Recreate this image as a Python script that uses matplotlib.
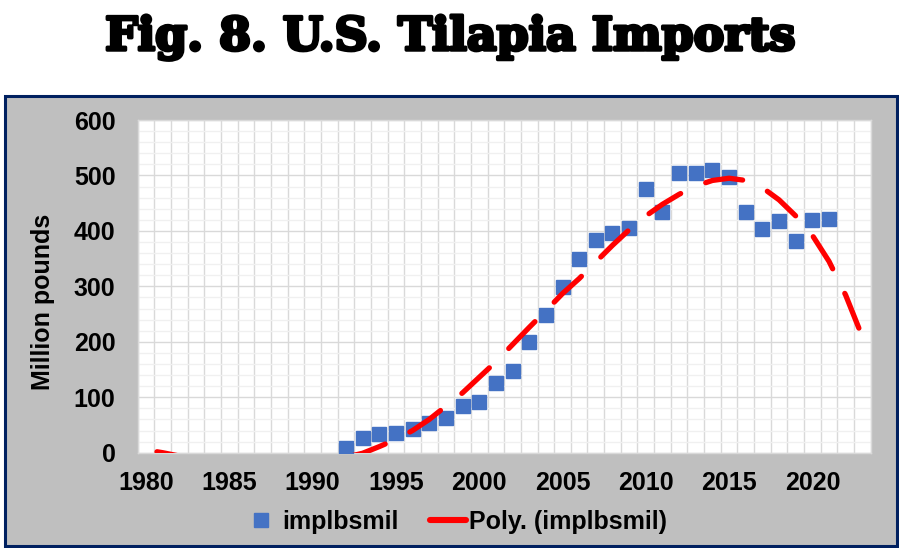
import matplotlib

matplotlib.use("Agg", force=True)
import matplotlib.pyplot as plt
import matplotlib.patheffects as pe
import numpy as np
from matplotlib.lines import Line2D
from matplotlib.patches import Rectangle

# U.S. tilapia imports, million pounds
years = [1992, 1993, 1994, 1995, 1996, 1997, 1998, 1999, 2000, 2001,
         2002, 2003, 2004, 2005, 2006, 2007, 2008, 2009, 2010, 2011,
         2012, 2013, 2014, 2015, 2016, 2017, 2018, 2019, 2020, 2021]
implbsmil = [8, 26, 33, 35, 43, 53, 62, 84, 91, 125,
             148, 200, 249, 298, 350, 384, 397, 406, 476, 435,
             505, 505, 509, 498, 435, 404, 417, 381, 419, 422]

# polynomial trend as drawn in the chart (runs below zero 1981-1993)
trend_years = list(range(1980, 2024))
trend_values = [5, 0, -6, -11, -16, -20, -23, -24, -24, -22,
                -19, -14, -8, -1, 11, 24, 40, 60, 84, 108,
                136, 164, 195, 226, 256, 287, 314, 344, 374, 402,
                427, 448, 466, 481, 491, 495, 491, 478, 456, 427,
                392, 345, 284, 209]

x_ticks = [1980, 1985, 1990, 1995, 2000, 2005, 2010, 2015, 2020]
y_ticks = [0, 100, 200, 300, 400, 500, 600]

FONT = "Liberation Sans"
FS = 18
LW = 3.8

fig = plt.figure(figsize=(8.99, 5.48), dpi=100)
fig.patch.set_facecolor("white")
fig.patches.append(Rectangle((0.0056, 0.0036), 0.9922, 0.8218, transform=fig.transFigure,
                             facecolor="#BFBFBF", edgecolor="#002060", lw=2.2, zorder=-10))

ax = fig.add_axes([0.1532, 0.1739, 0.8153, 0.6071])
ax.set_facecolor("white")
ax.set_xlim(1979.5, 2023.5)
ax.set_ylim(0, 600)

ax.set_xticks(x_ticks)
ax.set_xticks(np.arange(1979.5, 2024, 1), minor=True)
ax.set_yticks(y_ticks)
ax.set_yticks(np.arange(0, 601, 20), minor=True)
ax.tick_params(which="both", length=0)
ax.tick_params(axis="x", pad=13)
ax.tick_params(axis="y", pad=16)
for lab in ax.get_xticklabels() + ax.get_yticklabels():
    lab.set_fontfamily(FONT)
    lab.set_fontweight("bold")
    lab.set_fontsize(FS)

ax.xaxis.grid(True, which="minor", color="#D9D9D9", lw=1.0)
ax.yaxis.grid(True, which="minor", color="#F0F0F0", lw=1.0)
ax.yaxis.grid(True, which="major", color="#D9D9D9", lw=1.0)
ax.set_axisbelow(True)
for s in ax.spines.values():
    s.set_color("#D9D9D9")
    s.set_linewidth(1.0)

ax.plot(years, implbsmil, "s", ms=9.4, color="#4472C4", mec="#4472C4", zorder=3)

# dash phase so the pattern lines up with the reference
pts = ax.transData.transform(np.column_stack([trend_years, trend_values]))
seg = np.hypot(np.diff(pts[:, 0]), np.diff(pts[:, 1]))
cum = np.concatenate([[0], np.cumsum(seg)])
dash_on, dash_off = 7.1, 5.2
period = (dash_on + dash_off) * LW * 100 / 72
target = np.interp(2013.6, trend_years, cum)
offset_px = (-target) % period
ax.plot(trend_years, trend_values, color="#FF0000", lw=LW,
        ls=(offset_px * 72 / 100 / LW, (dash_on, dash_off)),
        dash_capstyle="round", zorder=4)

fig.text(43 / 899, 1 - 302 / 548, "Million pounds", rotation=90, ha="center", va="center",
         fontfamily=FONT, fontweight="bold", fontsize=FS)

fig.text(0.5017, 1 - 50 / 548, "Fig. 8. U.S. Tilapia Imports", ha="center", va="baseline",
         fontfamily="DejaVu Serif", fontweight="bold", fontsize=33,
         path_effects=[pe.withStroke(linewidth=2.5, foreground="black")])

handles = [
    Line2D([], [], ls="none", marker="s", ms=9.4, color="#4472C4"),
    Line2D([], [], color="#FF0000", lw=LW + 0.6, solid_capstyle="round"),
]
fig.legend(handles, ["implbsmil", "Poly. (implbsmil)"], loc="center",
           bbox_to_anchor=(0.5062, 1 - 521.7 / 548), ncol=2, frameon=False,
           prop={"family": FONT, "weight": "bold", "size": FS},
           handlelength=1.43, handletextpad=0.12, columnspacing=1.25, borderpad=0)

fig.savefig("out.png", dpi=100)
